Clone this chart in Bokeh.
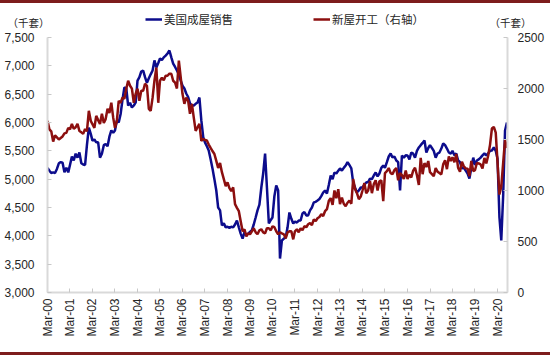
import pandas as pd
from bokeh.plotting import figure
from bokeh.models import (Range1d, LinearAxis, FixedTicker, DatetimeTickFormatter,
                          NumeralTickFormatter, Legend, LegendItem, Label, Spacer, ColumnDataSource)
from bokeh.layouts import column
from bokeh.embed import file_html
from bokeh.resources import INLINE

# Monthly data, Mar-2000 .. Aug-2020 (thousand units, SAAR)
months = pd.date_range("2000-03-01", periods=246, freq="MS")

existing_home_sales = [
    5200, 5150, 5110, 5120, 5110, 5180, 5280, 5300, 5290, 5120,                # 2000 Mar-Dec
    5200, 5120, 5250, 5400, 5330, 5450, 5380, 5470, 5280, 5260, 5250, 5600,    # 2001
    5910, 5800, 5680, 5700, 5650, 5650, 5380, 5450, 5600, 5620, 5580, 5750,    # 2002
    5860, 5820, 5860, 6036, 6000, 6150, 6400, 6620, 6600, 6300, 6350, 6265,    # 2003
    6300, 6354, 6740, 6800, 6900, 6918, 6800, 6700, 6780, 6850, 6918, 7095,    # 2004
    6970, 7050, 7130, 7100, 7150, 7180, 7218, 7271, 7150, 7040, 6980, 6918,    # 2005
    6850, 6740, 6650, 6600, 6512, 6450, 6336, 6300, 6300, 6330, 6354, 6440,    # 2006
    6036, 5740, 5650, 5580, 5506, 5350, 5190, 5000, 4800, 4500, 4450, 4183,    # 2007
    4220, 4150, 4160, 4140, 4160, 4150, 4200, 4270, 4150, 4040, 3950, 4060,    # 2008
    4020, 4040, 4070, 4100, 4200, 4324, 4450, 4550, 4853, 5100, 5453, 4853,    # 2009
    4218, 4280, 4324, 4700, 4889, 4800, 3600, 3918, 3950, 3970, 4150, 4412,    # 2010
    4300, 4218, 4250, 4235, 4270, 4270, 4394, 4420, 4360, 4360, 4450, 4500,    # 2011
    4590, 4600, 4624, 4650, 4700, 4765, 4800, 4747, 4900, 5065, 5000, 5118,    # 2012
    5100, 5150, 5190, 5150, 5200, 5240, 5300, 5250, 5190, 4940, 4850, 4765,    # 2013
    4800, 4853, 4853, 4900, 4940, 4950, 5010, 5000, 5065, 5118, 5050, 5100,    # 2014
    5200, 5240, 5200, 5300, 5400, 5453, 5383, 5400, 5330, 5300, 4800, 5418,    # 2015
    5380, 5420, 5418, 5350, 5470, 5450, 5380, 5500, 5560, 5600, 5640, 5683,    # 2016
    5470, 5550, 5600, 5550, 5500, 5380, 5453, 5470, 5540, 5630, 5600, 5540,    # 2017
    5470, 5450, 5500, 5420, 5453, 5330, 5300, 5190, 5200, 5150, 5100, 5010,    # 2018
    5200, 5380, 5250, 5330, 5350, 5380, 5420, 5453, 5420, 5453, 5500, 5506,    # 2019
    5560, 5500, 5360, 4330, 3918, 4720, 5860, 6000,                            # 2020 Jan-Aug
]

housing_starts = [
    1683, 1600, 1580, 1480, 1540, 1520, 1500, 1515, 1530, 1560,                # 2000 Mar-Dec
    1565, 1614, 1600, 1653, 1604, 1620, 1653, 1584, 1570, 1555, 1604, 1580,    # 2001
    1781, 1683, 1650, 1614, 1732, 1690, 1653, 1752, 1663, 1700, 1801, 1760,    # 2002
    1860, 1712, 1614, 1683, 1880, 1860, 1910, 1900, 1998, 2076, 2027, 1998,    # 2003
    1860, 1950, 1998, 1880, 1978, 1978, 2047, 2027, 1801, 1781, 1910, 2076,    # 2004
    2204, 1860, 2076, 2106, 2080, 2125, 2125, 2145, 2145, 2076, 2057, 2000,    # 2005
    2273, 2106, 1948, 1850, 1910, 1880, 1752, 1850, 1712, 1584, 1620, 1653,    # 2006
    1486, 1505, 1495, 1490, 1450, 1417, 1387, 1358, 1290, 1220, 1269, 1180,    # 2007
    1112, 1043, 1080, 1023, 994, 1030, 866, 830, 797, 699, 600, 620,           # 2008
    551, 580, 571, 600, 630, 590, 571, 610, 620, 590, 580, 630,                # 2009
    630, 610, 649, 640, 600, 571, 590, 580, 571, 531, 590, 600,                # 2010
    600, 521, 600, 620, 590, 630, 610, 650, 640, 669, 680, 660,                # 2011
    718, 699, 728, 740, 767, 750, 797, 817, 900, 925, 860, 1000,               # 2012
    925, 1013, 866, 930, 870, 846, 880, 900, 870, 1112, 1013, 974,             # 2013
    915, 940, 1000, 1072, 974, 1000, 1092, 974, 1063, 1100, 1000, 1090,        # 2014
    1100, 895, 1171, 1190, 1220, 1170, 1160, 1200, 1220, 1100, 1170, 1150,     # 2015
    1114, 1195, 1113, 1155, 1128, 1195, 1223, 1150, 1054, 1320, 1160, 1268,    # 2016
    1230, 1289, 1179, 1160, 1140, 1220, 1185, 1172, 1158, 1256, 1297, 1209,    # 2017
    1334, 1290, 1327, 1276, 1358, 1220, 1184, 1282, 1237, 1217, 1214, 1141,    # 2018
    1289, 1190, 1199, 1270, 1265, 1256, 1215, 1319, 1266, 1340, 1450, 1608,    # 2019
    1624, 1567, 1276, 960, 1038, 1273, 1497, 1416,                             # 2020 Jan-Aug
]

tick_dates = pd.to_datetime([f"{y}-03-01" for y in range(2000, 2021)])
left_ticks = [3000, 3500, 4000, 4500, 5000, 5500, 6000, 6500, 7000, 7500]
right_ticks = [0, 500, 1000, 1500, 2000, 2500]

sales_name = "美国成屋销售"
starts_name = "新屋开工（右轴）"
unit_text = "（千套）"

BLUE = "#0c0c8c"
RED = "#8c0f0f"
BAR = "#7d1c1c"
FONT = "Liberation Sans"
CJK = "Noto Sans CJK SC"
TEXT = "#262626"

src = ColumnDataSource(dict(date=months, sales=existing_home_sales, starts=housing_starts))

x_start = pd.Timestamp("2000-03-01")
x_end = pd.Timestamp("2020-08-10")

# ---------------- main chart ----------------
p = figure(width=550, height=321, x_axis_type="datetime", output_backend="svg",
           toolbar_location=None, x_range=Range1d(x_start, x_end),
           y_range=Range1d(3000, 7500),
           min_border_left=47, min_border_right=43, min_border_top=6, min_border_bottom=60)
p.extra_y_ranges = {"right": Range1d(0, 2500)}
p.outline_line_color = None
p.xgrid.visible = False
p.ygrid.visible = False
p.frame_align = False

p.xaxis.ticker = FixedTicker(ticks=[d.value / 1e6 for d in tick_dates])
p.xaxis.formatter = DatetimeTickFormatter(
    years="%b-%y", months="%b-%y", days="%b-%y", hours="%b-%y",
    minutes="%b-%y", seconds="%b-%y", milliseconds="%b-%y", microseconds="%b-%y",
    hourmin="%b-%y", minsec="%b-%y")
p.xaxis.major_label_orientation = 1.5707963
p.xaxis.major_label_standoff = 6

p.yaxis.ticker = FixedTicker(ticks=left_ticks)
p.yaxis.formatter = NumeralTickFormatter(format="0,0")
p.yaxis.major_label_standoff = 13

right = LinearAxis(y_range_name="right", ticker=FixedTicker(ticks=right_ticks),
                   formatter=NumeralTickFormatter(format="0"))
right.major_label_standoff = 10
p.add_layout(right, "right")

for ax in [p.xaxis[0], p.yaxis[0], right]:
    ax.axis_line_color = "#d9d9d9"
    ax.axis_line_width = 2
    ax.major_tick_line_color = "#c8c8c8"
    ax.major_tick_in = 4
    ax.major_tick_out = 0
    ax.minor_tick_line_color = None
    ax.major_label_text_font = FONT
    ax.major_label_text_font_size = "12px"
    ax.major_label_text_color = TEXT

p.line("date", "sales", source=src, line_color=BLUE, line_width=2.5)
p.line("date", "starts", source=src, y_range_name="right", line_color=RED, line_width=2.5)

# ---------------- header: legend + units ----------------
h = figure(width=550, height=28, output_backend="svg", toolbar_location=None,
           x_range=Range1d(0, 550), y_range=Range1d(0, 28),
           x_axis_location=None, y_axis_location=None,
           min_border_left=0, min_border_right=0, min_border_top=0, min_border_bottom=0)
h.outline_line_color = None
h.xgrid.visible = False
h.ygrid.visible = False
h.frame_align = False

k1 = h.line("date", "sales", source=src, line_color=BLUE, line_width=2.5, visible=False)
k2 = h.line("date", "starts", source=src, line_color=RED, line_width=2.5, visible=False)

legend = Legend(items=[LegendItem(label=sales_name, renderers=[k1]),
                       LegendItem(label=starts_name, renderers=[k2])],
                orientation="horizontal", location=(145, 4), spacing=80,
                padding=0, margin=0, border_line_color=None, background_fill_alpha=0,
                glyph_width=17, glyph_height=12, label_standoff=2, label_height=12,
                label_text_font=CJK, label_text_font_size="11.5px",
                label_text_color=TEXT, click_policy="none")
h.add_layout(legend)

h.add_layout(Label(x=7, y=9, text=unit_text, text_baseline="middle", text_font=CJK,
                   text_font_size="10.5px", text_color=TEXT))
h.add_layout(Label(x=489, y=9, text=unit_text, text_baseline="middle", text_font=CJK,
                   text_font_size="10.5px", text_color=TEXT))

top_bar = Spacer(width=550, height=3, styles={"background-color": BAR})
bottom_bar = Spacer(width=550, height=3, styles={"background-color": BAR})
layout = column(top_bar, h, p, bottom_bar, spacing=0)

open("out.html", "w").write(file_html(layout, INLINE))
